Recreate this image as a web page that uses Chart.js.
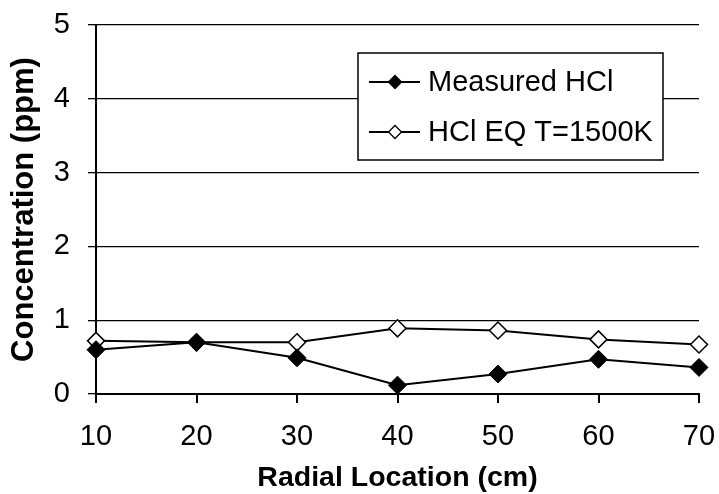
<!DOCTYPE html>
<html>
<head>
<meta charset="utf-8">
<script src="https://cdn.jsdelivr.net/npm/chart.js@4"></script>
<style>
  html, body { margin: 0; padding: 0; background: #fff; }
</style>
</head>
<body>
<canvas id="hclChart" width="719" height="494"></canvas>
<script>
// radial positions (cm) and concentrations (ppm)
var radialLocation = ['10', '20', '30', '40', '50', '60', '70'];
var measuredHCl = [0.60, 0.70, 0.49, 0.12, 0.27, 0.47, 0.36];
var eqHCl = [0.72, 0.70, 0.70, 0.89, 0.86, 0.74, 0.67];
var yTicks = [0, 1, 2, 3, 4, 5];

var FONT = "'Liberation Sans', Arial, sans-serif";

// legend drawn as a boxed panel inside the plot
var boxLegend = {
    id: 'boxLegend',
    afterDraw: function (chart) {
        var ctx = chart.ctx;
        var area = chart.chartArea;
        var left = area.left + 262;
        var top = area.top + 28;
        var w = 305, h = 107;
        ctx.save();
        ctx.fillStyle = '#fff';
        ctx.fillRect(left, top, w, h);
        ctx.lineWidth = 1.5;
        ctx.strokeStyle = '#000';
        ctx.strokeRect(left, top, w, h);

        chart.data.datasets.forEach(function (ds, i) {
            var cy = top + 29 + i * 50;
            ctx.beginPath();
            ctx.lineWidth = 2;
            ctx.strokeStyle = '#000';
            ctx.moveTo(left + 11, cy);
            ctx.lineTo(left + 62, cy);
            ctx.stroke();
            ctx.lineWidth = 1.3;
            ctx.fillStyle = ds.pointBackgroundColor;
            Chart.helpers.drawPoint(ctx, {pointStyle: 'rectRot', radius: 6.5, borderWidth: 1.3}, left + 37, cy);
            ctx.fillStyle = '#000';
            ctx.font = '29px ' + FONT;
            ctx.textAlign = 'left';
            ctx.textBaseline = 'middle';
            ctx.fillText(ds.label, left + 70, cy + 1);
        });
        ctx.restore();
    }
};

var ctx = document.getElementById('hclChart').getContext('2d');

var chart = new Chart(ctx, {
    type: 'line',
    data: {
        labels: radialLocation,
        datasets: [{
            label: 'Measured HCl',
            data: measuredHCl,
            borderColor: '#000',
            borderWidth: 2,
            pointStyle: 'rectRot',
            pointRadius: 9,
            pointBackgroundColor: '#000',
            pointBorderColor: '#000',
            pointBorderWidth: 1,
            tension: 0,
            clip: false
        }, {
            label: 'HCl EQ T=1500K',
            data: eqHCl,
            borderColor: '#000',
            borderWidth: 2,
            pointStyle: 'rectRot',
            pointRadius: 8.5,
            pointBackgroundColor: '#fff',
            pointBorderColor: '#000',
            pointBorderWidth: 1.5,
            tension: 0,
            clip: false
        }]
    },
    options: {
        responsive: false,
        animation: false,
        layout: {
            padding: { left: 0, right: 20, top: 25, bottom: 0 }
        },
        scales: {
            x: {
                type: 'category',
                offset: false,
                afterFit: function (s) {
                    s.height = 100;
                    s.paddingLeft = 0;
                    s.paddingRight = 0;
                },
                grid: {
                    drawOnChartArea: false,
                    drawTicks: true,
                    tickLength: 9,
                    color: '#000',
                    lineWidth: 2
                },
                border: { display: true, color: '#000', width: 2 },
                ticks: {
                    color: '#000',
                    padding: 17,
                    font: { family: FONT, size: 29 }
                },
                title: {
                    display: true,
                    text: 'Radial Location (cm)',
                    color: '#000',
                    padding: { top: 0, bottom: 2 },
                    font: { family: FONT, size: 28.5, weight: 'bold', lineHeight: 1 }
                }
            },
            y: {
                min: 0,
                max: 5,
                afterFit: function (s) {
                    s.width = 96;
                    s.paddingTop = 0;
                    s.paddingBottom = 0;
                },
                afterBuildTicks: function (s) {
                    s.ticks = yTicks.map(function (v) { return { value: v }; });
                },
                grid: {
                    drawOnChartArea: true,
                    drawTicks: true,
                    tickLength: 8,
                    color: '#000',
                    lineWidth: 1.3
                },
                border: { display: true, color: '#000', width: 2 },
                ticks: {
                    color: '#000',
                    padding: 18,
                    font: { family: FONT, size: 29 }
                },
                title: {
                    display: true,
                    text: 'Concentration (ppm)',
                    color: '#000',
                    padding: { top: 9, bottom: 0 },
                    font: { family: FONT, size: 31, weight: 'bold', lineHeight: 1 }
                }
            }
        },
        plugins: {
            legend: { display: false },
            tooltip: { enabled: false }
        }
    },
    plugins: [boxLegend]
});
</script>
</body>
</html>
